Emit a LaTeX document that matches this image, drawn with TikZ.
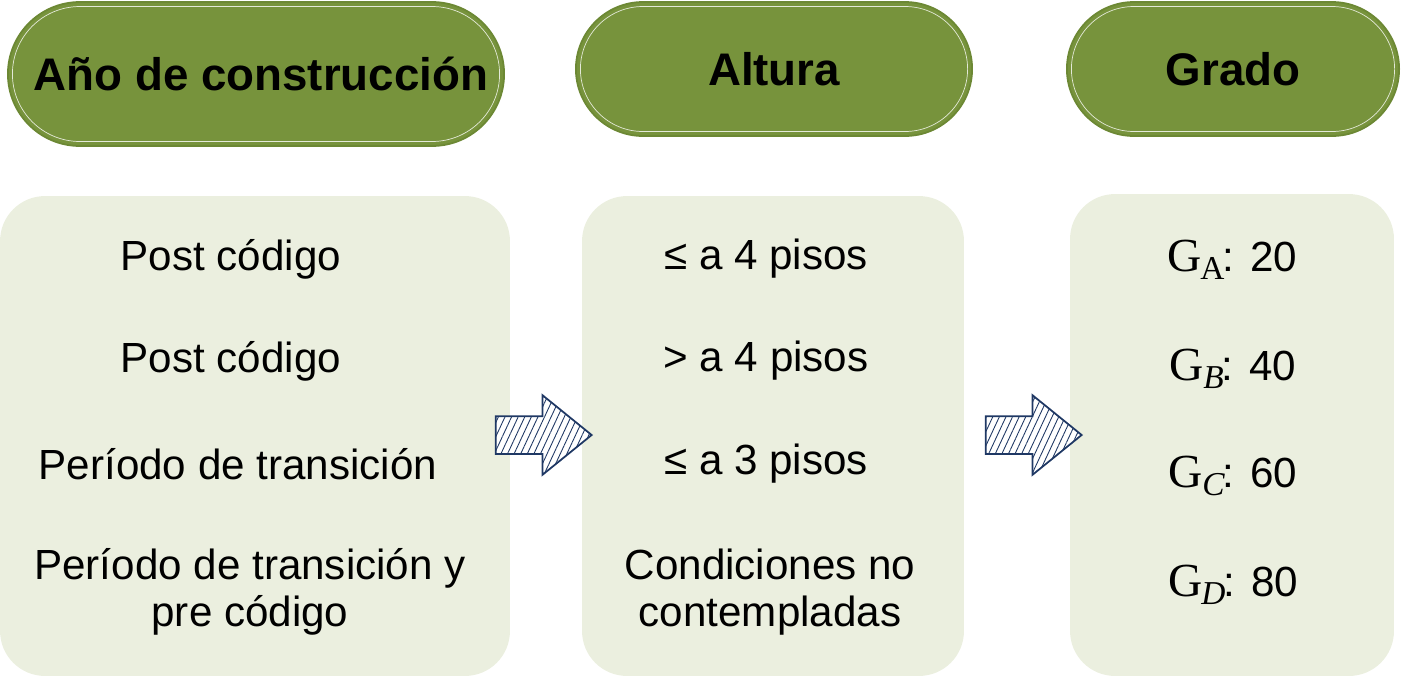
\documentclass[tikz,border=0pt]{standalone}
\usepackage{fontspec}
\setmainfont{Liberation Sans}
\newfontfamily\gradefont{Liberation Serif}
\usepackage{tikz}
\usetikzlibrary{positioning,shapes.misc,shapes.arrows,patterns.meta}
\definecolor{hdrgreen}{HTML}{77933C}
\definecolor{hdredge}{HTML}{6C8834}
\definecolor{boxgreen}{HTML}{EBEFDF}
\definecolor{arrowblue}{HTML}{1F3864}
\newcommand{\gsym}[1]{{\gradefont\fontsize{27}{30}\selectfont G\kern-0.5pt\raisebox{-0.35ex}{\fontsize{19}{19}\selectfont #1}}\kern-1pt}

\begin{document}
\begin{tikzpicture}[x=0.02cm,y=-0.02cm,
                pill/.style={rounded rectangle,fill=hdrgreen,draw=hdredge,line width=1pt,
                        font=\fontsize{26}{30}\selectfont\bfseries,
                        path picture={
                                \draw[white,opacity=0.8,line width=0.4pt,rounded corners=#1]
                                ([shift={(0.09cm,-0.09cm)}]path picture bounding box.north west)
                                rectangle ([shift={(-0.09cm,0.09cm)}]path picture bounding box.south east);
                            }},
                listbox/.style={draw=none,fill=boxgreen,rounded corners=0.9cm},
                item/.style={font=\fontsize{24}{27}\selectfont,align=center,inner sep=0pt},
                blockarrow/.style={single arrow,draw=arrowblue,line width=1pt,fill=white,
                        inner xsep=0pt,inner ysep=0.36cm,minimum height=1.92cm,
                        single arrow head extend=0.42cm,single arrow tip angle=78,
                        postaction={pattern={Lines[angle=65,distance=3.4pt,line width=0.5pt]},
                                pattern color=arrowblue}}]
            \useasboundingbox (0,0) rectangle (1406,680);
            % headers
            \node[pill=1.35cm,minimum width=10.16cm,minimum height=2.88cm,text depth=0pt] (year) at (256,74) {\hspace{0.2cm}Año de construcción};
            \node[pill=1.25cm,minimum width=8.16cm,minimum height=2.68cm] (height) at (774,69) {Altura};
            \node[pill=1.25cm,minimum width=6.88cm,minimum height=2.68cm] (grade) at (1233,69) {Grado};
            % boxes
            \node[listbox,minimum width=10.2cm,minimum height=9.6cm] (yearbox) at (255,436) {};
            \node[listbox,minimum width=7.64cm,minimum height=9.6cm] (heightbox) at (773,436) {};
            \node[listbox,minimum width=6.48cm,minimum height=9.64cm] (gradebox) at (1232,435) {};
            % first column
            \node[item] (yr1) at (231,259) {Post código};
            \node[item] (yr2) at (231,361) {Post código};
            \node[item] (yr3) at (238,464) {Período de transición};
            \node[item] (yr4) at (250,592) {Período de transición y\\pre código};
            % second column
            \node[item] (ht1) at (766,259) {≤ a 4 pisos};
            \node[item] (ht2) at (766,361) {> a 4 pisos};
            \node[item] (ht3) at (766,464) {≤ a 3 pisos};
            \node[item] (ht4) at (770,592) {Condiciones no\\contempladas};
            % third column
            \node[item] (gr1) at (1232,260) {\gsym{A}: 20};
            \node[item] (gr2) at (1233,369) {\gsym{\itshape B}: 40};
            \node[item] (gr3) at (1233,476) {\gsym{\itshape C}: 60};
            \node[item] (gr4) at (1233,585) {\gsym{\itshape D}: 80};
            % arrows
            \node[blockarrow] (arr1) at (532,435) {};
            \node[blockarrow] (arr2) at (1022,435) {};
        \end{tikzpicture}
\end{document}
